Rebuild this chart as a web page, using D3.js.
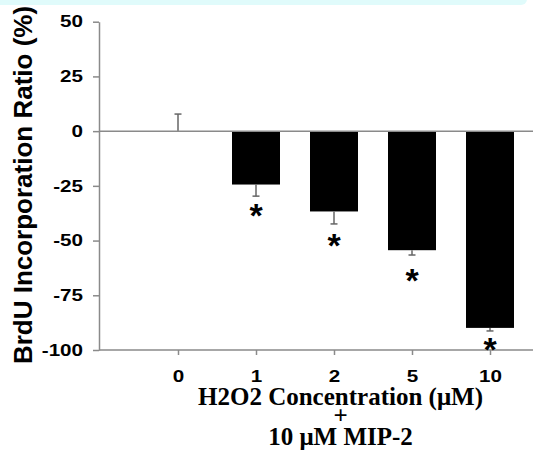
<!DOCTYPE html>
<html>
<head>
<meta charset="utf-8">
<script src="https://cdn.jsdelivr.net/npm/d3@7"></script>
<style>
  body { margin: 0; background: #fff; }
  svg { display: block; }
</style>
</head>
<body>
<div id="chart"></div>
<script>
// data
const doses = ['0', '1', '2', '5', '10']
const ratio = [0, -24.4, -36.7, -54.4, -89.9]
const sem = [7.8, 5.3, 5.7, 2.2, 1.4]
// where the significance stars sit (in % units), null = no star
const starAt = [null, -35.2, -48.9, -64.7, -96.3]
const yTicks = [50, 25, 0, -25, -50, -75, -100]
const yTitle = 'BrdU Incorporation Ratio (%)'
const xTitle = ['H2O2 Concentration (\u03bcM)', '+', '10 \u03bcM MIP-2']

const width = 533
const height = 452
const axisX = 99
const rightEdge = 533
const stretch = 1.25 // tick labels look horizontally stretched in the original

const svg = d3.select('#chart')
    .append('svg')
    .attr('width', width)
    .attr('height', height)

// cut-off banner at the very top
svg.append('rect')
    .attr('x', -10)
    .attr('y', -12)
    .attr('width', 537)
    .attr('height', 17)
    .attr('rx', 6)
    .attr('fill', '#e0fbfb')

const y = d3.scaleLinear()
    .domain([-100, 50])
    .range([350, 21.7])

const x = d3.scalePoint()
    .domain(doses)
    .range([178, 490])

const barW = 48
const axisCol = '#8a8a8a'
const tickFont = 'Arial, "Liberation Sans", sans-serif'

// y axis
const yAxis = svg.append('g')
    .attr('transform', `translate(${axisX},0)`)
    .call(d3.axisLeft(y)
        .tickValues(yTicks)
        .tickFormat(d => String(d))
        .tickSize(6)
        .tickSizeOuter(0)
        .tickPadding(10))
yAxis.select('.domain').attr('stroke', axisCol).attr('stroke-width', 1.5)
yAxis.selectAll('.tick line').attr('stroke', axisCol).attr('stroke-width', 1.5)
yAxis.selectAll('.tick text')
    .attr('fill', '#000')
    .attr('x', -16 / stretch)
    .attr('transform', `scale(${stretch},1)`)
    .style('font-family', tickFont)
    .style('font-weight', 'bold')
    .style('font-size', '16.5px')

// bars
svg.append('g')
    .selectAll('rect')
    .data(doses)
    .enter()
    .append('rect')
    .attr('x', d => x(d) - barW / 2)
    .attr('y', (d, i) => y(Math.max(0, ratio[i])))
    .attr('width', barW)
    .attr('height', (d, i) => Math.abs(y(ratio[i]) - y(0)))
    .attr('fill', '#000')

// error bars (drawn away from zero)
const err = svg.append('g')
    .attr('stroke', '#666')
    .attr('stroke-width', 1.5)
doses.forEach((d, i) => {
    const end = ratio[i] < 0 ? ratio[i] - sem[i] : ratio[i] + sem[i]
    err.append('line')
        .attr('x1', x(d)).attr('x2', x(d))
        .attr('y1', y(ratio[i])).attr('y2', y(end))
    err.append('line')
        .attr('x1', x(d) - 3.5).attr('x2', x(d) + 3.5)
        .attr('y1', y(end)).attr('y2', y(end))
})

// zero line and bottom axis line
svg.append('line')
    .attr('x1', axisX).attr('x2', rightEdge)
    .attr('y1', y(0)).attr('y2', y(0))
    .attr('stroke', axisCol).attr('stroke-width', 1.5)

svg.append('line')
    .attr('x1', axisX).attr('x2', rightEdge)
    .attr('y1', y(-100)).attr('y2', y(-100))
    .attr('stroke', axisCol).attr('stroke-width', 1.5)

const xAxis = svg.append('g')
    .attr('transform', `translate(0,${y(-100)})`)
    .call(d3.axisBottom(x)
        .tickSize(5)
        .tickPadding(15))
xAxis.select('.domain').remove()
xAxis.selectAll('.tick line').attr('stroke', axisCol).attr('stroke-width', 1.5)
xAxis.selectAll('.tick text')
    .attr('fill', '#000')
    .attr('transform', `scale(${stretch},1)`)
    .style('font-family', tickFont)
    .style('font-weight', 'bold')
    .style('font-size', '16.5px')

// stars
svg.append('g')
    .selectAll('text')
    .data(doses.filter((d, i) => starAt[i] !== null))
    .enter()
    .append('text')
    .attr('x', d => x(d))
    .attr('y', d => y(starAt[doses.indexOf(d)]) + 19)
    .attr('text-anchor', 'middle')
    .style('font-family', tickFont)
    .style('font-weight', 'bold')
    .style('font-size', '34px')
    .text('*')

// y title
svg.append('text')
    .attr('transform', 'translate(32,185) rotate(-90)')
    .attr('text-anchor', 'middle')
    .style('font-family', tickFont)
    .style('font-weight', 'bold')
    .style('font-size', '26px')
    .text(yTitle)

// x title, three lines
const lineY = [405, 424, 445]
svg.append('g')
    .selectAll('text')
    .data(xTitle)
    .enter()
    .append('text')
    .attr('x', 340.5)
    .attr('y', (d, i) => lineY[i])
    .attr('text-anchor', 'middle')
    .style('font-family', '"Times New Roman", "Liberation Serif", serif')
    .style('font-weight', 'bold')
    .style('font-size', '25px')
    .text(d => d)
</script>
</body>
</html>
